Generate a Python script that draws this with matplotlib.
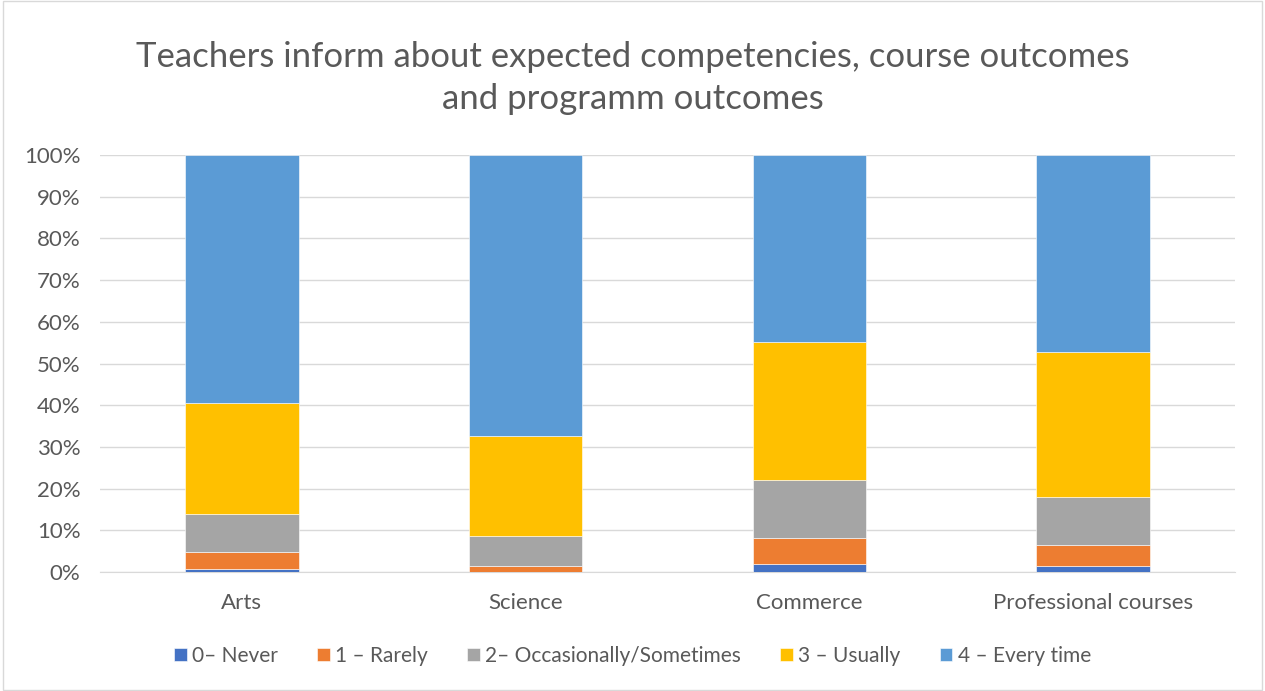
import numpy as np
import matplotlib.pyplot as plt
from matplotlib.ticker import PercentFormatter

categories = ["Arts", "Science", "Commerce", "Professional courses"]
series = ["0\u2013 Never", "1 \u2013 Rarely", "2\u2013 Occasionally/Sometimes",
          "3 \u2013 Usually", "4 \u2013 Every time"]
never = [0.8, 0.0, 2.0, 1.5]
rarely = [4.1, 1.5, 6.2, 4.9]
occasionally = [9.1, 7.2, 13.9, 11.6]
usually = [26.5, 23.9, 33.1, 34.8]
every_time = [59.5, 67.4, 44.8, 47.2]
colors = ["#4472C4", "#ED7D31", "#A5A5A5", "#FFC000", "#5B9BD5"]

plt.rcParams["font.family"] = ["Lato", "DejaVu Sans"]
text_col = "#595959"

fig = plt.figure(figsize=(12.65, 6.91), dpi=100)
ax = fig.add_axes([100 / 1265, 1 - 572 / 691, 1135 / 1265, 417 / 691])

x = np.arange(len(categories))
bottom = np.zeros(len(categories))
for name, vals, c in zip(series, [never, rarely, occasionally, usually, every_time], colors):
    vals = np.array(vals)
    ax.bar(x, vals, 0.4, bottom=bottom, color=c, label=name,
           edgecolor="white", linewidth=0.4, zorder=3)
    bottom += vals

ax.set_xlim(-0.5, 3.5)
ax.set_ylim(0, 100)
ax.set_yticks(np.arange(0, 101, 10))
ax.yaxis.set_major_formatter(PercentFormatter(decimals=0))
ax.grid(axis="y", color="#D9D9D9", linewidth=1, zorder=0)
for s in ["top", "right", "left"]:
    ax.spines[s].set_visible(False)
ax.spines["bottom"].set_color("#D9D9D9")
ax.set_xticks(x)
ax.set_xticklabels(categories)
ax.tick_params(axis="both", length=0, labelsize=16, colors=text_col)
ax.tick_params(axis="x", pad=15)
ax.tick_params(axis="y", pad=14)

fig.text(0.5, 1 - 78 / 691, "Teachers inform about expected competencies, course outcomes\nand programm outcomes",
         ha="center", va="center", fontsize=25, color=text_col, linespacing=1.35)

fig.legend(loc="center", bbox_to_anchor=(0.5, 1 - 656 / 691), ncol=5, frameon=False,
           fontsize=15, labelcolor=text_col, handlelength=0.6, handleheight=0.6,
           handletextpad=0.25, columnspacing=1.9)

border = plt.Rectangle((0.002, 0.002), 0.996, 0.996, transform=fig.transFigure,
                       fill=False, edgecolor="#D9D9D9", linewidth=1)
fig.patches.append(border)

fig.savefig("out.png", dpi=100)
